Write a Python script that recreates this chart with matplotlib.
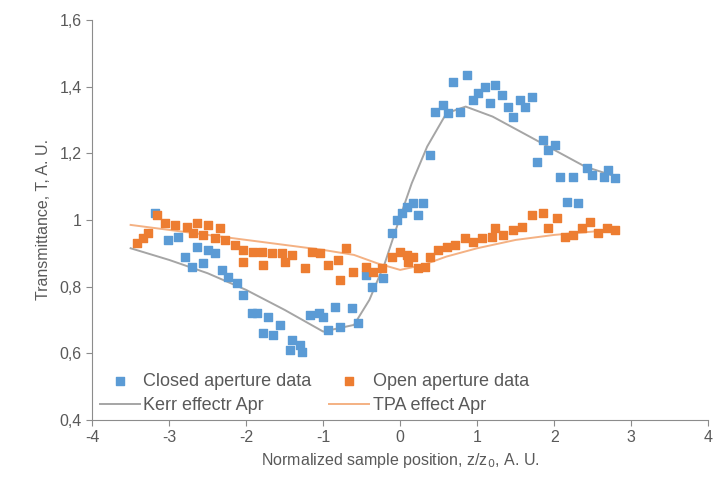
import numpy as np
import matplotlib.pyplot as plt
from matplotlib.ticker import FuncFormatter

plt.rcParams['font.family'] = ['Liberation Sans', 'DejaVu Sans']
plt.rcParams['axes.unicode_minus'] = False

# Closed aperture data (blue)
closed_x = [-3.18, -3.01, -2.88, -2.79, -2.70, -2.64, -2.56, -2.49, -2.40, -2.31,
            -2.23, -2.12, -2.04, -1.92, -1.86, -1.78, -1.71, -1.65, -1.56, -1.43,
            -1.40, -1.30, -1.28, -1.17, -1.06, -1.00, -0.94, -0.84, -0.78, -0.62,
            -0.55, -0.45, -0.36, -0.22, -0.10, -0.04, 0.02, 0.09, 0.16, 0.23,
            0.30, 0.39, 0.45, 0.55, 0.62, 0.69, 0.78, 0.87, 0.94, 1.01,
            1.10, 1.17, 1.23, 1.32, 1.40, 1.47, 1.56, 1.62, 1.71, 1.78,
            1.86, 1.92, 2.01, 2.08, 2.17, 2.25, 2.31, 2.43, 2.49, 2.64,
            2.70, 2.79]
closed_y = [1.02, 0.94, 0.95, 0.89, 0.86, 0.92, 0.87, 0.91, 0.90, 0.85,
            0.83, 0.81, 0.775, 0.72, 0.72, 0.66, 0.71, 0.655, 0.685, 0.61,
            0.64, 0.625, 0.605, 0.715, 0.72, 0.71, 0.67, 0.74, 0.68, 0.735,
            0.69, 0.835, 0.80, 0.825, 0.96, 1.00, 1.02, 1.04, 1.05, 1.015,
            1.05, 1.195, 1.325, 1.345, 1.32, 1.415, 1.325, 1.435, 1.36, 1.38,
            1.40, 1.35, 1.405, 1.375, 1.34, 1.31, 1.36, 1.34, 1.37, 1.175,
            1.24, 1.21, 1.225, 1.13, 1.055, 1.13, 1.05, 1.155, 1.135, 1.13,
            1.15, 1.125]

# Open aperture data (orange)
open_x = [-3.42, -3.34, -3.27, -3.16, -3.05, -2.92, -2.77, -2.69, -2.64, -2.56,
          -2.49, -2.40, -2.34, -2.27, -2.14, -2.04, -2.04, -1.91, -1.79, -1.78,
          -1.66, -1.53, -1.49, -1.40, -1.23, -1.14, -1.04, -0.94, -0.81, -0.78,
          -0.71, -0.61, -0.45, -0.35, -0.23, -0.10, 0.00, 0.09, 0.10, 0.17,
          0.23, 0.32, 0.39, 0.49, 0.61, 0.71, 0.84, 0.94, 1.06, 1.19,
          1.23, 1.34, 1.47, 1.58, 1.71, 1.86, 1.92, 2.04, 2.14, 2.25,
          2.36, 2.47, 2.57, 2.69, 2.79]
open_y = [0.93, 0.945, 0.96, 1.015, 0.99, 0.985, 0.98, 0.96, 0.99, 0.955,
          0.985, 0.945, 0.975, 0.94, 0.925, 0.91, 0.875, 0.905, 0.905, 0.865,
          0.90, 0.90, 0.875, 0.895, 0.855, 0.905, 0.90, 0.865, 0.88, 0.82,
          0.915, 0.845, 0.86, 0.845, 0.855, 0.89, 0.905, 0.895, 0.875, 0.89,
          0.855, 0.86, 0.89, 0.91, 0.92, 0.925, 0.945, 0.935, 0.945, 0.95,
          0.975, 0.955, 0.97, 0.98, 1.015, 1.02, 0.975, 1.005, 0.95, 0.955,
          0.975, 0.995, 0.96, 0.975, 0.97]

# fitted curves
kerr_x = [-3.5, -3.0, -2.5, -2.0, -1.5, -1.0, -0.6, -0.4, -0.2, 0.0,
          0.15, 0.35, 0.6, 0.85, 1.2, 1.6, 2.0, 2.4, 2.8]
kerr_y = [0.915, 0.88, 0.84, 0.79, 0.73, 0.665, 0.685, 0.76, 0.87, 1.01,
          1.11, 1.22, 1.32, 1.34, 1.31, 1.26, 1.21, 1.16, 1.13]
tpa_x = [-3.5, -3.0, -2.5, -2.0, -1.5, -1.0, -0.6, -0.3, 0.0, 0.3,
         0.6, 1.0, 1.5, 2.0, 2.5, 2.8]
tpa_y = [0.985, 0.97, 0.955, 0.94, 0.925, 0.91, 0.895, 0.87, 0.85, 0.865,
         0.89, 0.915, 0.94, 0.955, 0.965, 0.975]

blue = '#5b9bd5'
orange = '#ed7d31'
grey = '#595959'

fig = plt.figure(figsize=(7.14, 4.86), dpi=100)
ax = fig.add_axes([0.129, 0.136, 0.863, 0.823])

h1 = ax.scatter(closed_x, closed_y, marker='s', s=28, color=blue, zorder=3,
                label='Closed aperture data')
h3 = ax.scatter(open_x, open_y, marker='s', s=28, color=orange, zorder=3,
                label='Open aperture data')
h2, = ax.plot(kerr_x, kerr_y, color='#a5a5a5', lw=1.4, zorder=2,
              label='Kerr effectr Apr')
h4, = ax.plot(tpa_x, tpa_y, color='#f4b183', lw=1.4, zorder=2,
              label='TPA effect Apr')

ax.set_xlim(-4, 4)
ax.set_ylim(0.4, 1.6)
ax.set_xticks(np.arange(-4, 5, 1))
ax.set_yticks(np.arange(0.4, 1.61, 0.2))
ax.yaxis.set_major_formatter(FuncFormatter(lambda v, p: ('%g' % round(v, 1)).replace('.', ',')))

for s in ['top', 'right']:
    ax.spines[s].set_visible(False)
for s in ['left', 'bottom']:
    ax.spines[s].set_color('#8c8c8c')
ax.tick_params(colors='#8c8c8c', labelcolor=grey, labelsize=11.5, length=4)

ax.set_xlabel(r'Normalized sample position, z/z$_0$, A. U.', fontsize=11.5, color=grey, labelpad=4)
ax.set_ylabel('Transmittance, T, A. U.', fontsize=11.5, color=grey, labelpad=6)

ax.legend(handles=[h1, h2, h3, h4], ncol=2, loc='lower left', bbox_to_anchor=(-0.005, -0.012),
          frameon=False, fontsize=13, labelcolor=grey, handlelength=2.2,
          columnspacing=1.0, handletextpad=0.2, borderaxespad=0.2, labelspacing=0.4)

fig.savefig('out.png', dpi=100)
